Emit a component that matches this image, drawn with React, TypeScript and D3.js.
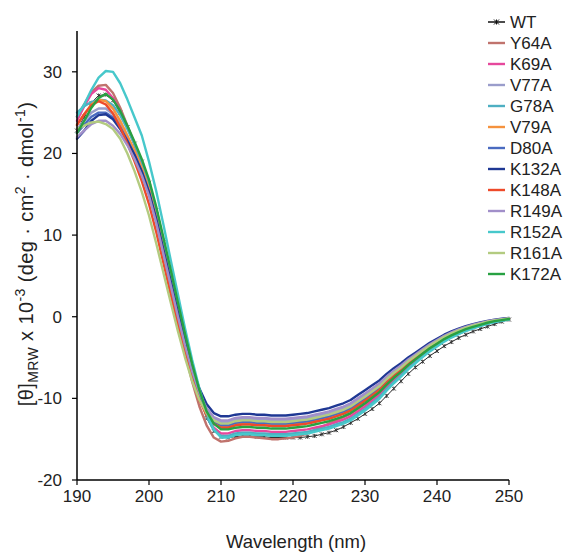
import React from "react";
import * as d3 from "d3";

// wavelength grid (nm)
const wavelengths = [
  190, 191, 192, 193, 194, 195, 196, 197, 198, 199, 200, 201, 202, 203, 204, 205, 206, 207, 208, 209,
  210, 211, 212, 213, 214, 215, 216, 217, 218, 219, 220, 221, 222, 223, 224, 225, 226, 227, 228, 229,
  230, 231, 232, 233, 234, 235, 236, 237, 238, 239, 240, 241, 242, 243, 244, 245, 246, 247, 248, 249, 250,
];

const WT = [
  22.8, 24.5, 26.2, 27.1, 27.2, 26.5, 25.0, 23.2, 21.2, 19.0, 16.4, 13.0, 9.1, 5.1, 1.0, -3.0, -6.7, -9.9, -12.4, -14.0,
  -14.7, -14.8, -14.7, -14.6, -14.6, -14.7, -14.7, -14.8, -14.8, -14.8, -14.8, -14.8, -14.7,
  -14.6, -14.4, -14.2, -13.9, -13.5, -13.0, -12.5, -11.9, -11.3, -10.6, -9.7, -8.8, -7.9, -7.0, -6.2, -5.5, -4.8, -4.2,
  -3.6, -3.1, -2.6, -2.2, -1.8, -1.5, -1.2, -0.9, -0.6, -0.35,
];
const Y64A = [
  24.5, 26.0, 27.5, 28.3, 28.4, 27.4, 25.6, 23.4, 21.0, 18.5, 15.6, 12.0, 8.0, 3.8, -0.4, -4.4, -8.0, -11.0, -13.3, -14.8,
  -15.3, -15.2, -14.9, -14.7, -14.7, -14.8, -14.9, -15.0, -15.0, -14.9, -14.8, -14.6, -14.3,
  -13.9, -13.5, -13.1, -12.7, -12.3, -11.9, -11.3, -10.7, -10.1, -9.4, -8.5, -7.6, -6.9, -6.0, -5.3, -4.6, -3.9, -3.4,
  -2.8, -2.3, -1.9, -1.6, -1.3, -1.0, -0.75, -0.55, -0.42, -0.3,
];
const K69A = [
  24.0, 25.8, 27.3, 28.0, 27.8, 26.8, 25.2, 23.3, 21.2, 19.0, 16.4, 13.0, 9.2, 5.2, 1.2, -2.7, -6.3, -9.5, -12.0, -13.6,
  -14.3, -14.3, -14.0, -13.9, -13.9, -14.0, -14.0, -14.1, -14.1, -14.1, -14.0, -13.9, -13.8,
  -13.6, -13.4, -13.2, -12.9, -12.6, -12.2, -11.6, -11.0,
  -10.3, -9.6, -8.64, -7.78, -7.02, -6.16, -5.44, -4.72, -4.04, -3.46, -2.88, -2.4, -1.99, -1.63, -1.32, -1.06, -0.8, -0.59, -0.45, -0.31,
];
const V77A = [
  23.0, 24.0, 25.0, 25.5, 25.5, 24.8, 23.6, 22.0, 20.2, 18.2, 15.7, 12.4, 8.6, 4.7, 0.8, -2.9, -6.3, -9.1, -11.2, -12.4,
  -12.9, -12.9, -12.6, -12.5, -12.5, -12.6, -12.6, -12.7, -12.7, -12.7, -12.6, -12.5, -12.4,
  -12.2, -12.0, -11.8, -11.5, -11.2, -10.8, -10.2, -9.6,
  -8.97, -8.34, -7.49, -6.74, -6.1, -5.35, -4.71, -4.08, -3.45, -2.93, -2.4, -1.98, -1.61, -1.29, -1.03, -0.81, -0.59, -0.42, -0.31, -0.2,
];
const G78A = [
  25.0, 25.8, 26.3, 26.6, 26.5, 25.9, 24.7, 23.0, 21.1, 19.0, 16.5, 13.2, 9.4, 5.4, 1.4, -2.6, -6.3, -9.6, -12.2, -13.9,
  -14.6, -14.6, -14.3, -14.2, -14.2, -14.3, -14.3, -14.4, -14.4, -14.4, -14.3, -14.2, -14.1,
  -13.9, -13.7, -13.5, -13.2, -12.9, -12.5, -11.9, -11.3,
  -10.59, -9.87, -8.89, -8.0, -7.22, -6.33, -5.6, -4.86, -4.17, -3.57, -2.98, -2.49, -2.07, -1.7, -1.38, -1.11, -0.85, -0.63, -0.48, -0.33,
];
const V79A = [
  23.5, 24.8, 26.0, 26.6, 26.4, 25.5, 24.0, 22.2, 20.3, 18.2, 15.6, 12.2, 8.3, 4.3, 0.4, -3.4, -6.8, -9.7, -11.8, -13.0,
  -13.5, -13.5, -13.2, -13.1, -13.1, -13.2, -13.2, -13.3, -13.3, -13.3, -13.2, -13.1, -13.0,
  -12.8, -12.6, -12.4, -12.1, -11.8, -11.4, -10.8, -10.2,
  -9.54, -8.88, -7.98, -7.19, -6.49, -5.7, -5.02, -4.35, -3.7, -3.16, -2.61, -2.16, -1.77, -1.44, -1.15, -0.92, -0.68, -0.49, -0.37, -0.25,
];
const D80A = [
  22.5, 23.5, 24.5, 25.0, 25.0, 24.4, 23.2, 21.6, 19.8, 17.7, 15.1, 11.8, 8.0, 4.1, 0.2, -3.5, -6.9, -9.7, -11.7, -12.8,
  -13.3, -13.3, -13.0, -12.9, -12.9, -13.0, -13.0, -13.1, -13.1, -13.1, -13.0, -12.9, -12.8,
  -12.6, -12.4, -12.2, -11.9, -11.6, -11.2, -10.6, -10.0,
  -9.35, -8.7, -7.82, -7.04, -6.36, -5.58, -4.92, -4.26, -3.62, -3.08, -2.54, -2.1, -1.72, -1.39, -1.11, -0.88, -0.65, -0.47, -0.35, -0.23,
];
const K132A = [
  21.8, 22.8, 24.0, 24.7, 24.8, 24.2, 23.0, 21.5, 19.8, 17.8, 15.3, 12.0, 8.2, 4.4, 0.6, -3.0, -6.2, -8.8, -10.7, -11.8,
  -12.2, -12.2, -12.0, -11.9, -11.9, -12.0, -12.0, -12.1, -12.1, -12.1, -12.0, -11.9, -11.8,
  -11.6, -11.4, -11.2, -10.9, -10.6, -10.2, -9.6, -9.0, -8.4, -7.8, -7.0, -6.3, -5.7, -5.0, -4.4, -3.8, -3.2, -2.7,
  -2.2, -1.8, -1.45, -1.15, -0.9, -0.7, -0.5, -0.35, -0.25, -0.15,
];
const K148A = [
  23.5, 24.8, 25.9, 26.4, 26.0, 24.9, 23.2, 21.2, 19.0, 16.6, 13.8, 10.4, 6.6, 2.8, -0.9, -4.4, -7.6, -10.2, -12.1, -13.1,
  -13.6, -13.6, -13.3, -13.2, -13.2, -13.3, -13.3, -13.4, -13.4, -13.4, -13.3, -13.2, -13.1,
  -12.9, -12.7, -12.5, -12.2, -11.9, -11.5, -10.9, -10.3,
  -9.64, -8.97, -8.07, -7.26, -6.56, -5.75, -5.08, -4.4, -3.75, -3.19, -2.64, -2.19, -1.8, -1.46, -1.17, -0.93, -0.7, -0.51, -0.38, -0.25,
];
const R149A = [
  22.0, 22.8, 23.6, 24.0, 24.0, 23.4, 22.4, 21.0, 19.3, 17.3, 14.8, 11.5, 7.7, 3.9, 0.1, -3.5, -6.7, -9.3, -11.2, -12.3,
  -12.7, -12.7, -12.4, -12.3, -12.3, -12.4, -12.4, -12.5, -12.5, -12.5, -12.4, -12.3, -12.2,
  -12.0, -11.8, -11.6, -11.3, -11.0, -10.6, -10.0, -9.4,
  -8.78, -8.16, -7.33, -6.6, -5.96, -5.23, -4.61, -3.98, -3.37, -2.85, -2.34, -1.92, -1.56, -1.25, -0.98, -0.77, -0.56, -0.4, -0.29, -0.18,
];
const R152A = [
  24.5, 26.0, 27.8, 29.3, 30.1, 30.0, 28.6, 26.6, 24.4, 22.2, 19.0, 15.4, 11.3, 7.0, 2.8, -1.4, -5.3, -8.8, -11.8, -13.8,
  -14.8, -14.8, -14.5, -14.4, -14.4, -14.5, -14.5, -14.6, -14.6, -14.6, -14.5, -14.4, -14.3,
  -14.1, -13.9, -13.7, -13.4, -13.1, -12.7, -12.1, -11.5,
  -10.78, -10.05, -9.05, -8.15, -7.35, -6.45, -5.7, -4.95, -4.25, -3.65, -3.05, -2.55, -2.13, -1.75, -1.43, -1.15, -0.88, -0.65, -0.5, -0.35,
];
const R161A = [
  23.0, 23.4, 23.8, 23.9, 23.6, 23.0, 21.8, 20.0, 17.8, 15.3, 12.4, 9.0, 5.4, 1.8, -1.7, -5.0, -7.9, -10.2, -11.8, -12.7,
  -13.1, -13.1, -12.8, -12.7, -12.7, -12.8, -12.8, -12.9, -12.9, -12.9, -12.8, -12.7, -12.6,
  -12.4, -12.2, -12.0, -11.7, -11.4, -11.0, -10.4, -9.8,
  -9.16, -8.52, -7.66, -6.89, -6.23, -5.46, -4.82, -4.17, -3.54, -3.0, -2.47, -2.04, -1.67, -1.34, -1.07, -0.84, -0.62, -0.45, -0.33, -0.21,
];
const K172A = [
  22.5, 24.0, 25.6, 26.8, 27.3, 26.6, 25.2, 23.4, 21.4, 19.3, 16.8, 13.5, 9.7, 5.8, 1.8, -2.1, -5.8, -9.0, -11.6, -13.1,
  -13.8, -13.8, -13.6, -13.5, -13.5, -13.6, -13.6, -13.7, -13.7, -13.7, -13.6, -13.5, -13.4,
  -13.2, -13.0, -12.8, -12.5, -12.2, -11.8, -11.2, -10.6,
  -9.92, -9.24, -8.31, -7.48, -6.76, -5.93, -5.23, -4.54, -3.87, -3.31, -2.74, -2.28, -1.88, -1.53, -1.24, -0.99, -0.74, -0.54, -0.41, -0.28,
];

const seriesNames = ["WT", "Y64A", "K69A", "V77A", "G78A", "V79A", "D80A", "K132A", "K148A", "R149A", "R152A", "R161A", "K172A"];
const seriesValues = [WT, Y64A, K69A, V77A, G78A, V79A, D80A, K132A, K148A, R149A, R152A, R161A, K172A];
const seriesColors = [
  "#111111", "#c0736d", "#e6489c", "#9a9dcb", "#4eafc2", "#f5923e", "#4a6bc0",
  "#1f3894", "#ee4a2a", "#a18fc9", "#47c8cb", "#b3cb80", "#28a142",
];

const xTicks = [190, 200, 210, 220, 230, 240, 250];
const yTicks = [-20, -10, 0, 10, 20, 30];

const font = "'Liberation Sans', Arial, sans-serif";

// small asterisk used for the WT markers
const star = (cx: number, cy: number, r: number) =>
  `M${cx - r},${cy - r}L${cx + r},${cy + r}M${cx - r},${cy + r}L${cx + r},${cy - r}M${cx},${cy - r}L${cx},${cy + r}`;

export default function App() {
  const left = 77, right = 509, top = 31, bottom = 480;
  const x = d3.scaleLinear().domain([190, 250]).range([left, right]);
  const y = d3.scaleLinear().domain([-20, 35]).range([bottom, top]);
  const line = d3.line<number>()
    .x((_, i) => x(wavelengths[i]))
    .y((d) => y(d));

  const legendY = (i: number) => 22 + i * 21;

  return (
    <svg width={569} height={552} style={{ position: "absolute", left: 0, top: 0, background: "#fff" }} fontFamily={font}>
      {/* series */}
      {seriesValues.map((vals, si) => (
        <g key={seriesNames[si]}>
          <path
            d={line(vals) ?? ""}
            fill="none"
            stroke={seriesColors[si]}
            strokeWidth={si === 0 ? 0.9 : 2.4}
            strokeLinejoin="round"
            strokeLinecap="round"
          />
          {si === 0 && vals.map((v, i) => (
            <path key={i} d={star(x(wavelengths[i]), y(v), 2)} stroke="#333" strokeWidth={0.9} />
          ))}
        </g>
      ))}

      {/* axes */}
      <line x1={left} x2={left} y1={top} y2={bottom} stroke="#000" strokeWidth={1.5} />
      <line x1={left} x2={right} y1={bottom} y2={bottom} stroke="#000" strokeWidth={1.5} />
      {yTicks.map((t) => (
        <g key={t}>
          <line x1={left - 5} x2={left} y1={y(t)} y2={y(t)} stroke="#000" strokeWidth={1.2} />
          <text x={62} y={y(t)} dy="0.35em" textAnchor="end" fontSize={17} fill="#222">{t}</text>
        </g>
      ))}
      {xTicks.map((t) => (
        <g key={t}>
          <line x1={x(t)} x2={x(t)} y1={bottom} y2={bottom + 5} stroke="#000" strokeWidth={1.2} />
          <text x={x(t)} y={502} textAnchor="middle" fontSize={17} fill="#222">{t}</text>
        </g>
      ))}

      <text x={296} y={548} textAnchor="middle" fontSize={18.5} fill="#222">Wavelength (nm)</text>

      <text transform="translate(33,254) rotate(-90)" textAnchor="middle" fontSize={20} fill="#222" letterSpacing={0.4}>
        <tspan>[θ]</tspan>
        <tspan fontSize={14} dy={5}>MRW</tspan>
        <tspan dy={-5}> x 10</tspan>
        <tspan fontSize={14} dy={-8}>-3</tspan>
        <tspan dy={8}> (deg · cm</tspan>
        <tspan fontSize={14} dy={-8}>2</tspan>
        <tspan dy={8}> · dmol</tspan>
        <tspan fontSize={14} dy={-8}>-1</tspan>
        <tspan dy={8}>)</tspan>
      </text>

      {/* legend */}
      {seriesNames.map((name, i) => (
        <g key={name}>
          <line x1={488} x2={505} y1={legendY(i)} y2={legendY(i)} stroke={seriesColors[i]} strokeWidth={i === 0 ? 1.5 : 2.4} />
          {i === 0 && <path d={star(496.5, legendY(i), 2.5)} stroke="#111" strokeWidth={1} />}
          <text x={510} y={legendY(i)} dy="0.36em" fontSize={17} fill="#222">{name}</text>
        </g>
      ))}
    </svg>
  );
}
